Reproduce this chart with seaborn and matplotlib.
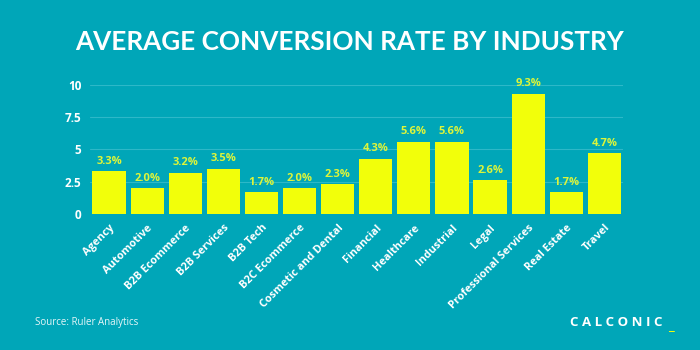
import matplotlib
matplotlib.use("Agg")
import matplotlib.pyplot as plt
import seaborn as sns
import pandas as pd

# données
industries = ["Agency", "Automotive", "B2B Ecommerce", "B2B Services", "B2B Tech",
              "B2C Ecommerce", "Cosmetic and Dental", "Financial", "Healthcare",
              "Industrial", "Legal", "Professional Services", "Real Estate", "Travel"]
rates = [3.3, 2.0, 3.2, 3.5, 1.7, 2.0, 2.3, 4.3, 5.6, 5.6, 2.6, 9.3, 1.7, 4.7]
y_ticks = [0, 2.5, 5, 7.5, 10]
y_tick_labels = ["0", "2.5", "5", "7.5", "10"]

bg = "#00A6B8"
bar_col = "#F2FF0A"
lab_col = "#DDF53A"

df = pd.DataFrame({"industry": industries, "rate": rates})

sns.set_style("white")
plt.rcParams["font.family"] = ["Open Sans", "DejaVu Sans"]

fig = plt.figure(figsize=(7, 3.5), dpi=100, facecolor=bg)
ax = fig.add_axes([0.1286, 0.3886, 0.762, 0.3686])
ax.set_facecolor(bg)

sns.barplot(data=df, x="industry", y="rate", color=bar_col, width=0.87,
            saturation=1, linewidth=0, edgecolor=bar_col, ax=ax, zorder=3)

for i, v in enumerate(rates):
    ax.text(i, v + 0.35, f"{v:.1f}%", ha="center", va="bottom", color=lab_col,
            fontsize=8, fontweight="bold", clip_on=False)

ax.set_ylim(0, 10)
ax.set_xlim(-0.5, len(industries) - 0.5)
ax.set_yticks(y_ticks)
ax.set_yticklabels(y_tick_labels, color="white", fontsize=8.5, fontweight="bold")
ax.set_xticks(range(len(industries)))
ax.set_xticklabels(industries, rotation=45, ha="right", rotation_mode="anchor",
                   color="white", fontsize=7.8, fontweight="bold")
ax.tick_params(axis="both", length=0)
ax.tick_params(axis="x", pad=6)
ax.tick_params(axis="y", pad=6)
for y in y_ticks[1:]:
    ax.axhline(y, color="#2DB8C8", lw=0.8, zorder=1)
sns.despine(ax=ax, left=True, bottom=True)
ax.set_xlabel("")
ax.set_ylabel("")

fig.text(0.5, 0.88, "AVERAGE CONVERSION RATE BY INDUSTRY", ha="center", va="center",
         color="white", fontsize=18.8, fontweight="bold", family=["Lato", "DejaVu Sans"])
fig.text(0.05, 0.08, "Source: Ruler Analytics", ha="left", va="center",
         color="#E6F6F8", fontsize=7)
fig.text(0.815, 0.08, "C A L C O N I C", ha="left", va="center",
         color="white", fontsize=9.5, fontweight="bold")
fig.text(0.955, 0.072, "_", ha="left", va="center", color=bar_col,
         fontsize=10, fontweight="bold")

fig.savefig("out.png", dpi=100, facecolor=bg)
